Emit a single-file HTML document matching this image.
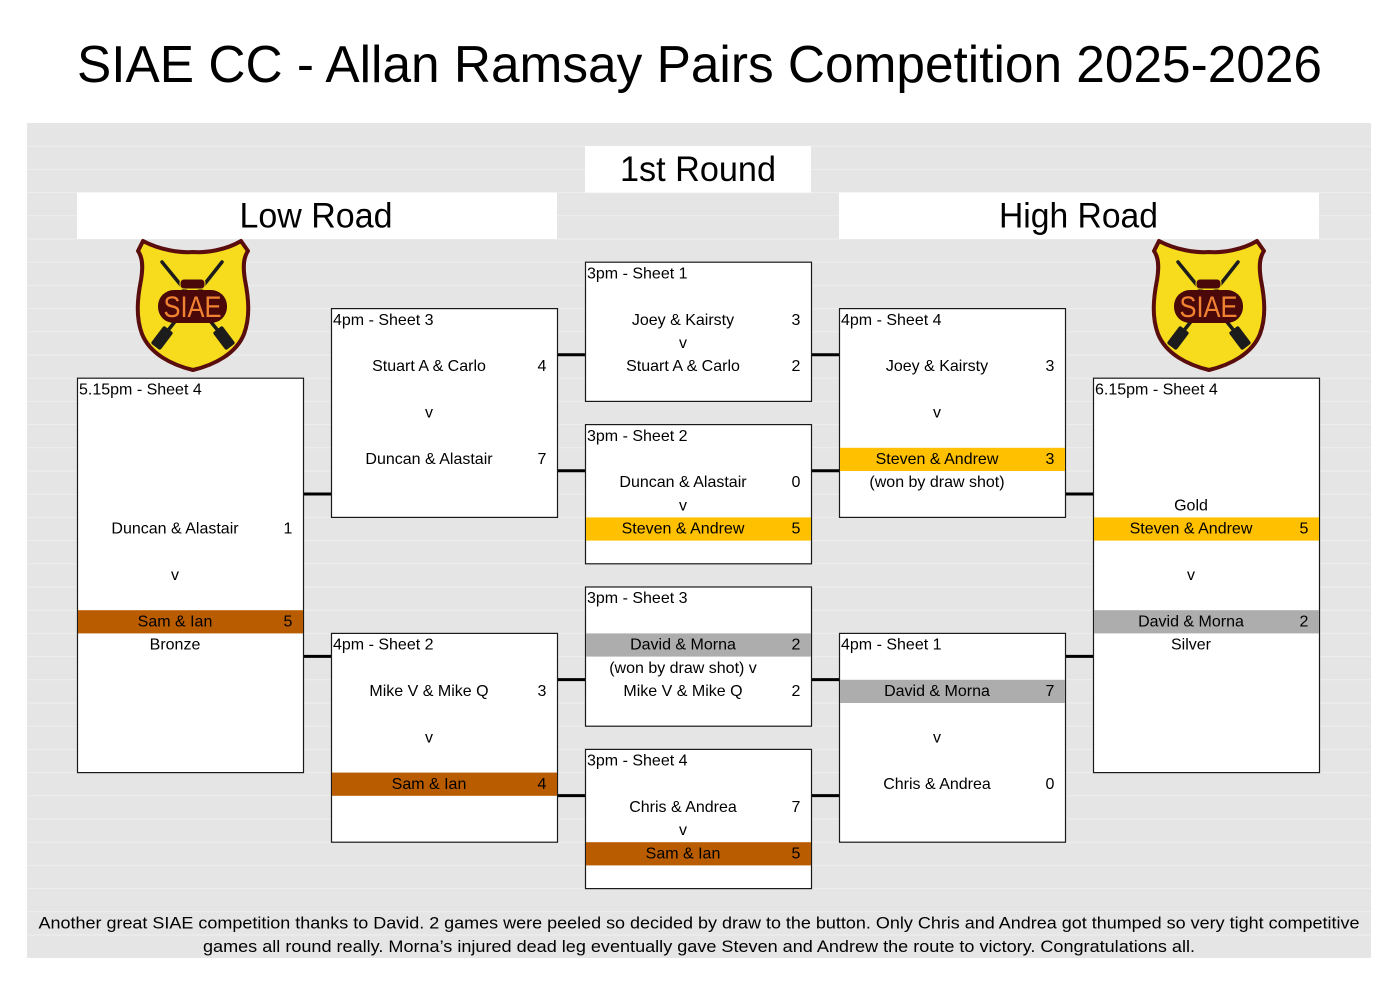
<!DOCTYPE html>
<html>
<head>
<meta charset="utf-8">
<style>
  html,body{margin:0;padding:0;background:#fff;}
  body{width:1399px;height:989px;overflow:hidden;}
  svg{display:block;}
  text{font-family:"Liberation Sans", sans-serif;fill:#000;}
  .t{font-size:16px;}
  .c{text-anchor:middle;}
</style>
</head>
<body>
<svg width="1399" height="989" viewBox="0 0 1399 989" xmlns="http://www.w3.org/2000/svg">
  <!-- Title -->
  <text x="77" y="82" font-size="52" textLength="1245" lengthAdjust="spacingAndGlyphs">SIAE CC - Allan Ramsay Pairs Competition 2025-2026</text>

  <!-- Gray sheet area -->
  <rect x="27" y="123" width="1344" height="835" fill="#e5e5e5"/>
  <g stroke="#eeeeee" stroke-width="1">
    <line x1="27" x2="1371" y1="146.2" y2="146.2"/>
    <line x1="27" x2="1371" y1="169.4" y2="169.4"/>
    <line x1="27" x2="1371" y1="192.6" y2="192.6"/>
    <line x1="27" x2="1371" y1="215.8" y2="215.8"/>
    <line x1="27" x2="1371" y1="239" y2="239"/>
    <line x1="27" x2="1371" y1="262.2" y2="262.2"/>
    <line x1="27" x2="1371" y1="285.4" y2="285.4"/>
    <line x1="27" x2="1371" y1="308.6" y2="308.6"/>
    <line x1="27" x2="1371" y1="331.8" y2="331.8"/>
    <line x1="27" x2="1371" y1="355" y2="355"/>
    <line x1="27" x2="1371" y1="378.2" y2="378.2"/>
    <line x1="27" x2="1371" y1="401.4" y2="401.4"/>
    <line x1="27" x2="1371" y1="424.6" y2="424.6"/>
    <line x1="27" x2="1371" y1="447.8" y2="447.8"/>
    <line x1="27" x2="1371" y1="471" y2="471"/>
    <line x1="27" x2="1371" y1="494.2" y2="494.2"/>
    <line x1="27" x2="1371" y1="517.4" y2="517.4"/>
    <line x1="27" x2="1371" y1="540.6" y2="540.6"/>
    <line x1="27" x2="1371" y1="563.8" y2="563.8"/>
    <line x1="27" x2="1371" y1="587" y2="587"/>
    <line x1="27" x2="1371" y1="610.2" y2="610.2"/>
    <line x1="27" x2="1371" y1="633.4" y2="633.4"/>
    <line x1="27" x2="1371" y1="656.6" y2="656.6"/>
    <line x1="27" x2="1371" y1="679.8" y2="679.8"/>
    <line x1="27" x2="1371" y1="703" y2="703"/>
    <line x1="27" x2="1371" y1="726.2" y2="726.2"/>
    <line x1="27" x2="1371" y1="749.4" y2="749.4"/>
    <line x1="27" x2="1371" y1="772.6" y2="772.6"/>
    <line x1="27" x2="1371" y1="795.8" y2="795.8"/>
    <line x1="27" x2="1371" y1="819" y2="819"/>
    <line x1="27" x2="1371" y1="842.2" y2="842.2"/>
    <line x1="27" x2="1371" y1="865.4" y2="865.4"/>
    <line x1="27" x2="1371" y1="888.6" y2="888.6"/>
    <line x1="27" x2="1371" y1="911.8" y2="911.8"/>
    <line x1="27" x2="1371" y1="935" y2="935"/>
  </g>

  <!-- Heading boxes -->
  <rect x="585" y="146.2" width="226" height="46.4" fill="#fff"/>
  <text x="698" y="181" font-size="35" class="c" textLength="156" lengthAdjust="spacingAndGlyphs">1st Round</text>
  <rect x="77" y="192.6" width="480" height="46.4" fill="#fff"/>
  <text x="316" y="227.5" font-size="35" class="c" textLength="153" lengthAdjust="spacingAndGlyphs">Low Road</text>
  <rect x="839" y="192.6" width="480" height="46.4" fill="#fff"/>
  <text x="1078.5" y="227.5" font-size="35" class="c" textLength="159" lengthAdjust="spacingAndGlyphs">High Road</text>

  <!-- Connectors -->
  <g stroke="#000" stroke-width="3">
    <line x1="303" x2="331" y1="494" y2="494"/>
    <line x1="303" x2="331" y1="656.4" y2="656.4"/>
    <line x1="557" x2="585" y1="354.8" y2="354.8"/>
    <line x1="557" x2="585" y1="470.8" y2="470.8"/>
    <line x1="557" x2="585" y1="679.6" y2="679.6"/>
    <line x1="557" x2="585" y1="795.6" y2="795.6"/>
    <line x1="811" x2="839" y1="354.8" y2="354.8"/>
    <line x1="811" x2="839" y1="470.8" y2="470.8"/>
    <line x1="811" x2="839" y1="679.6" y2="679.6"/>
    <line x1="811" x2="839" y1="795.6" y2="795.6"/>
    <line x1="1065" x2="1093" y1="494" y2="494"/>
    <line x1="1065" x2="1093" y1="656.4" y2="656.4"/>
  </g>

  <!-- Boxes -->
  <g fill="#fff" stroke="#1a1a1a" stroke-width="1.2">
    <rect x="77.5" y="378.2" width="226" height="394.4"/>
    <rect x="331.5" y="308.6" width="226" height="208.8"/>
    <rect x="331.5" y="633.4" width="226" height="208.8"/>
    <rect x="585.5" y="262.2" width="226" height="139.2"/>
    <rect x="585.5" y="424.6" width="226" height="139.2"/>
    <rect x="585.5" y="587" width="226" height="139.2"/>
    <rect x="585.5" y="749.4" width="226" height="139.2"/>
    <rect x="839.5" y="308.6" width="226" height="208.8"/>
    <rect x="839.5" y="633.4" width="226" height="208.8"/>
    <rect x="1093.5" y="378.2" width="226" height="394.4"/>
  </g>

  <!-- Highlights -->
  <rect x="586" y="517.4" width="225" height="23.2" fill="#FFC000"/>
  <rect x="586" y="633.4" width="225" height="23.2" fill="#ADADAD"/>
  <rect x="586" y="842.2" width="225" height="23.2" fill="#B95C00"/>
  <rect x="78" y="610.2" width="225" height="23.2" fill="#B95C00"/>
  <rect x="332" y="772.6" width="225" height="23.2" fill="#B95C00"/>
  <rect x="840" y="447.8" width="225" height="23.2" fill="#FFC000"/>
  <rect x="840" y="679.8" width="225" height="23.2" fill="#ADADAD"/>
  <rect x="1094" y="517.4" width="225" height="23.2" fill="#FFC000"/>
  <rect x="1094" y="610.2" width="225" height="23.2" fill="#ADADAD"/>

  <g transform="translate(0,-1)">
  <!-- Box labels -->
  <g class="t">
    <text x="79" y="395.5">5.15pm - Sheet 4</text>
    <text x="333" y="325.8">4pm - Sheet 3</text>
    <text x="333" y="650.6">4pm - Sheet 2</text>
    <text x="587" y="279.4">3pm - Sheet 1</text>
    <text x="587" y="441.8">3pm - Sheet 2</text>
    <text x="587" y="604.2">3pm - Sheet 3</text>
    <text x="587" y="766.6">3pm - Sheet 4</text>
    <text x="841" y="325.8">4pm - Sheet 4</text>
    <text x="841" y="650.6">4pm - Sheet 1</text>
    <text x="1095" y="395.5">6.15pm - Sheet 4</text>
  </g>

  <!-- Column C -->
  <g class="t c">
    <text x="683" y="325.8">Joey &amp; Kairsty</text><text x="796" y="325.8">3</text>
    <text x="683" y="349">v</text>
    <text x="683" y="372.2">Stuart A &amp; Carlo</text><text x="796" y="372.2">2</text>

    <text x="683" y="488.2">Duncan &amp; Alastair</text><text x="796" y="488.2">0</text>
    <text x="683" y="511.4">v</text>
    <text x="683" y="534.6">Steven &amp; Andrew</text><text x="796" y="534.6">5</text>

    <text x="683" y="650.6">David &amp; Morna</text><text x="796" y="650.6">2</text>
    <text x="683" y="673.8">(won by draw shot) v</text>
    <text x="683" y="697">Mike V &amp; Mike Q</text><text x="796" y="697">2</text>

    <text x="683" y="813">Chris &amp; Andrea</text><text x="796" y="813">7</text>
    <text x="683" y="836.2">v</text>
    <text x="683" y="859.4">Sam &amp; Ian</text><text x="796" y="859.4">5</text>
  </g>

  <!-- Column B -->
  <g class="t c">
    <text x="429" y="372.2">Stuart A &amp; Carlo</text><text x="542" y="372.2">4</text>
    <text x="429" y="418.6">v</text>
    <text x="429" y="465">Duncan &amp; Alastair</text><text x="542" y="465">7</text>

    <text x="429" y="697">Mike V &amp; Mike Q</text><text x="542" y="697">3</text>
    <text x="429" y="743.4">v</text>
    <text x="429" y="789.8">Sam &amp; Ian</text><text x="542" y="789.8">4</text>
  </g>

  <!-- Column D -->
  <g class="t c">
    <text x="937" y="372.2">Joey &amp; Kairsty</text><text x="1050" y="372.2">3</text>
    <text x="937" y="418.6">v</text>
    <text x="937" y="465">Steven &amp; Andrew</text><text x="1050" y="465">3</text>
    <text x="937" y="488.2">(won by draw shot)</text>

    <text x="937" y="697">David &amp; Morna</text><text x="1050" y="697">7</text>
    <text x="937" y="743.4">v</text>
    <text x="937" y="789.8">Chris &amp; Andrea</text><text x="1050" y="789.8">0</text>
  </g>

  <!-- Column A -->
  <g class="t c">
    <text x="175" y="534.6">Duncan &amp; Alastair</text><text x="288" y="534.6">1</text>
    <text x="175" y="581">v</text>
    <text x="175" y="627.4">Sam &amp; Ian</text><text x="288" y="627.4">5</text>
    <text x="175" y="650.6">Bronze</text>
  </g>

  <!-- Column E -->
  <g class="t c">
    <text x="1191" y="511.4">Gold</text>
    <text x="1191" y="534.6">Steven &amp; Andrew</text><text x="1304" y="534.6">5</text>
    <text x="1191" y="581">v</text>
    <text x="1191" y="627.4">David &amp; Morna</text><text x="1304" y="627.4">2</text>
    <text x="1191" y="650.6">Silver</text>
  </g>
  </g>

  <!-- Logos -->
  <defs>
    <g id="logo">
      <path d="M143,241 C160,250 180,253 193,252 C206,253 226,250 241,241 L248,251 C243,258 243,268 245,280 C249,300 250,318 244,334 C236,354 214,365 193,370 C172,365 150,354 142,334 C136,318 137,300 141,280 C143,268 143,258 138,251 Z" fill="#F6DC1C" stroke="#5a0d0d" stroke-width="4" stroke-linejoin="round"/>
      <line x1="162" y1="262" x2="224" y2="338" stroke="#1c1c1c" stroke-width="3.5" stroke-linecap="round"/>
      <line x1="222" y1="262" x2="162" y2="338" stroke="#1c1c1c" stroke-width="3.5" stroke-linecap="round"/>
      <rect x="156" y="327" width="12" height="22" rx="2" fill="#1c1c1c" transform="rotate(37 162 338)"/>
      <rect x="218" y="327" width="12" height="22" rx="2" fill="#1c1c1c" transform="rotate(-37 224 338)"/>
      <rect x="180" y="279" width="25" height="10" rx="4" fill="#4a0808" stroke="#F6DC1C" stroke-width="1"/>
      <rect x="158" y="290" width="69" height="33" rx="16" fill="#4a0808"/>
      <text x="192.5" y="317" font-size="30" text-anchor="middle" textLength="58" lengthAdjust="spacingAndGlyphs" style="fill:#F08232">SIAE</text>
    </g>
  </defs>
  <use href="#logo"/>
  <use href="#logo" transform="translate(1016 0)"/>

  <!-- Footer text -->
  <text x="699" y="928.6" font-size="17" class="c" textLength="1321" lengthAdjust="spacingAndGlyphs">Another great SIAE competition thanks to David. 2 games were peeled so decided by draw to the button. Only Chris and Andrea got thumped so very tight competitive</text>
  <text x="699" y="951.8" font-size="17" class="c" textLength="992" lengthAdjust="spacingAndGlyphs">games all round really. Morna’s injured dead leg eventually gave Steven and Andrew the route to victory. Congratulations all.</text>
</svg>
</body>
</html>
